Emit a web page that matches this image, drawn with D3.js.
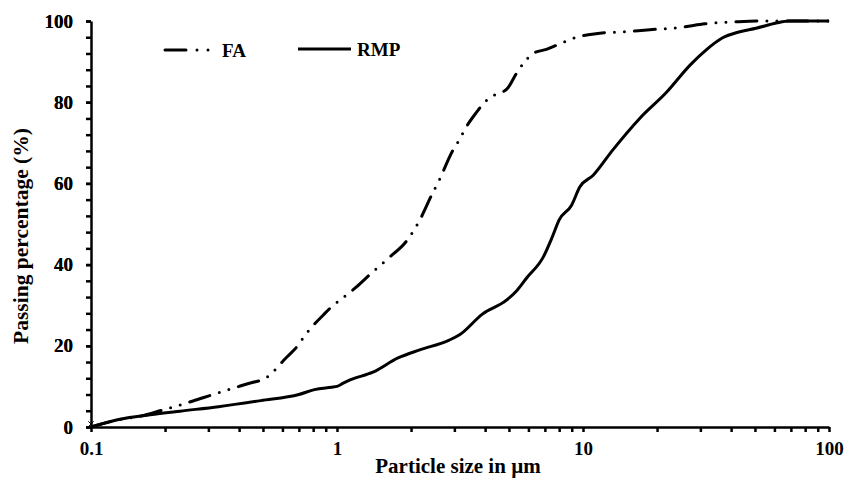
<!DOCTYPE html>
<html>
<head>
<meta charset="utf-8">
<script src="https://cdn.jsdelivr.net/npm/d3@7"></script>
<style>
body{margin:0;background:#fff;}
text{font-family:"Liberation Serif","Times New Roman",serif;font-weight:bold;fill:#000;}
</style>
</head>
<body>
<div id="chart"></div>
<script>
// particle size (um) / passing percentage
var faSize = [0.1,0.135,0.154,0.196,0.26,0.31,0.39,0.43,0.52,0.62,0.67,0.76,0.8,0.88,0.95,1.03,1.2,1.38,1.64,1.9,2.15,2.46,2.58,2.95,3.14,3.33,3.7,3.98,4.37,4.9,5.4,5.8,6.3,7.1,8.2,9.4,10.5,11.7,14.5,18.2,25.5,31.3,42,53,100];
var faPass = [0,2,2.5,4.2,6.4,7.9,9.8,10.6,12.3,17,19,23.4,25,27.6,29.6,31.3,34.5,37.9,41.9,45.5,50.5,57.9,60.3,68,70.7,73.6,77.6,80,81.8,83.2,87.4,90,92.1,93,94.6,96,96.6,97,97.3,97.8,98.5,99.3,99.8,100,100];

var rmpSize = [0.1,0.131,0.174,0.23,0.33,0.49,0.7,0.81,0.95,1.0,1.06,1.13,1.4,1.77,2.17,2.86,3.15,3.9,4.9,5.4,5.9,6.9,7.5,8.0,9.0,9.7,11.0,13.2,17,21.9,27.3,31.7,36.8,43,50.5,61,69,100];
var rmpPass = [0,1.9,3.0,3.9,5.0,6.5,8.0,9.2,9.8,10,10.8,11.6,13.5,17,19,21.4,22.7,27.8,31.3,33.7,36.7,41.9,46.8,51,54.7,59.1,62,68.2,76,82.5,89.2,92.9,95.8,97.3,98.2,99.5,100,100];

var seriesNames = ["FA","RMP"];
var yTicks = [0,20,40,60,80,100];
var xLabels = [0.1,1,10,100];

var W=856,H=478;
var m={left:91,right:27,top:21,bottom:51};

var svg=d3.select("#chart").append("svg")
	.attr("width",W)
	.attr("height",H);

var x=d3.scaleLog().domain([0.1,100]).range([m.left,W-m.right]);
var y=d3.scaleLinear().domain([0,100]).range([H-m.bottom,m.top]);

var fmt=d3.format("~g");

// y axis, minor ticks every 4
var yAx=svg.append("g")
	.attr("transform","translate("+m.left+",0)")
	.call(d3.axisLeft(y)
		.tickValues(d3.range(0,101,4).concat(yTicks))
		.tickSize(5).tickSizeOuter(0).tickPadding(13)
		.tickFormat(d=> yTicks.indexOf(d)>=0 ? d : ""));

// x axis, log minor ticks
var xAx=svg.append("g")
	.attr("transform","translate(0,"+(H-m.bottom)+")")
	.call(d3.axisBottom(x)
		.tickValues(x.ticks())
		.tickSize(5).tickSizeOuter(0).tickPadding(10)
		.tickFormat(d=> xLabels.indexOf(d)>=0 ? fmt(d) : ""));

[yAx,xAx].forEach(function(a){
	a.select(".domain").attr("stroke","#000").attr("stroke-width",2.5);
	a.selectAll(".tick line").attr("stroke","#000").attr("stroke-width",2.5);
	a.selectAll(".tick text").style("font-size","19px").attr("fill","#000");
});

// titles
svg.append("text")
	.attr("x",458).attr("y",473)
	.attr("text-anchor","middle")
	.style("font-size","21px")
	.text("Particle size in µm");

svg.append("text")
	.attr("transform","translate(28,236) rotate(-90)")
	.attr("text-anchor","middle")
	.style("font-size","21.5px")
	.text("Passing percentage (%)");

var line=d3.line()
	.x(d=> x(d[0]))
	.y(d=> y(d[1]))
	.curve(d3.curveMonotoneX);

var faData=d3.zip(faSize,faPass);
var rmpData=d3.zip(rmpSize,rmpPass);

svg.append("path")
	.datum(rmpData)
	.attr("d",line)
	.attr("fill","none")
	.attr("stroke","#000")
	.attr("stroke-width",3);

svg.append("path")
	.datum(faData)
	.attr("d",line)
	.attr("fill","none")
	.attr("stroke","#000")
	.attr("stroke-width",3)
	.attr("stroke-linecap","round")
	.attr("stroke-dasharray","21,10,0,10,0,10");

// little marker at origin
svg.append("path")
	.attr("d",d3.symbol(d3.symbolX,20)())
	.attr("transform","translate("+x(0.1)+","+(y(0)-3)+")")
	.attr("fill","none")
	.attr("stroke","#000")
	.attr("stroke-width",1);

// legend
var leg=svg.append("g");
leg.append("line")
	.attr("x1",165).attr("x2",212).attr("y1",50).attr("y2",50)
	.attr("stroke","#000").attr("stroke-width",3)
	.attr("stroke-linecap","round")
	.attr("stroke-dasharray","21,11,0,11,0,11");
leg.append("text").attr("x",222).attr("y",57).style("font-size","19px").text(seriesNames[0]);

leg.append("line")
	.attr("x1",298).attr("x2",351).attr("y1",49).attr("y2",49)
	.attr("stroke","#000").attr("stroke-width",3);
leg.append("text").attr("x",357).attr("y",56).style("font-size","19px").text(seriesNames[1]);
</script>
</body>
</html>
